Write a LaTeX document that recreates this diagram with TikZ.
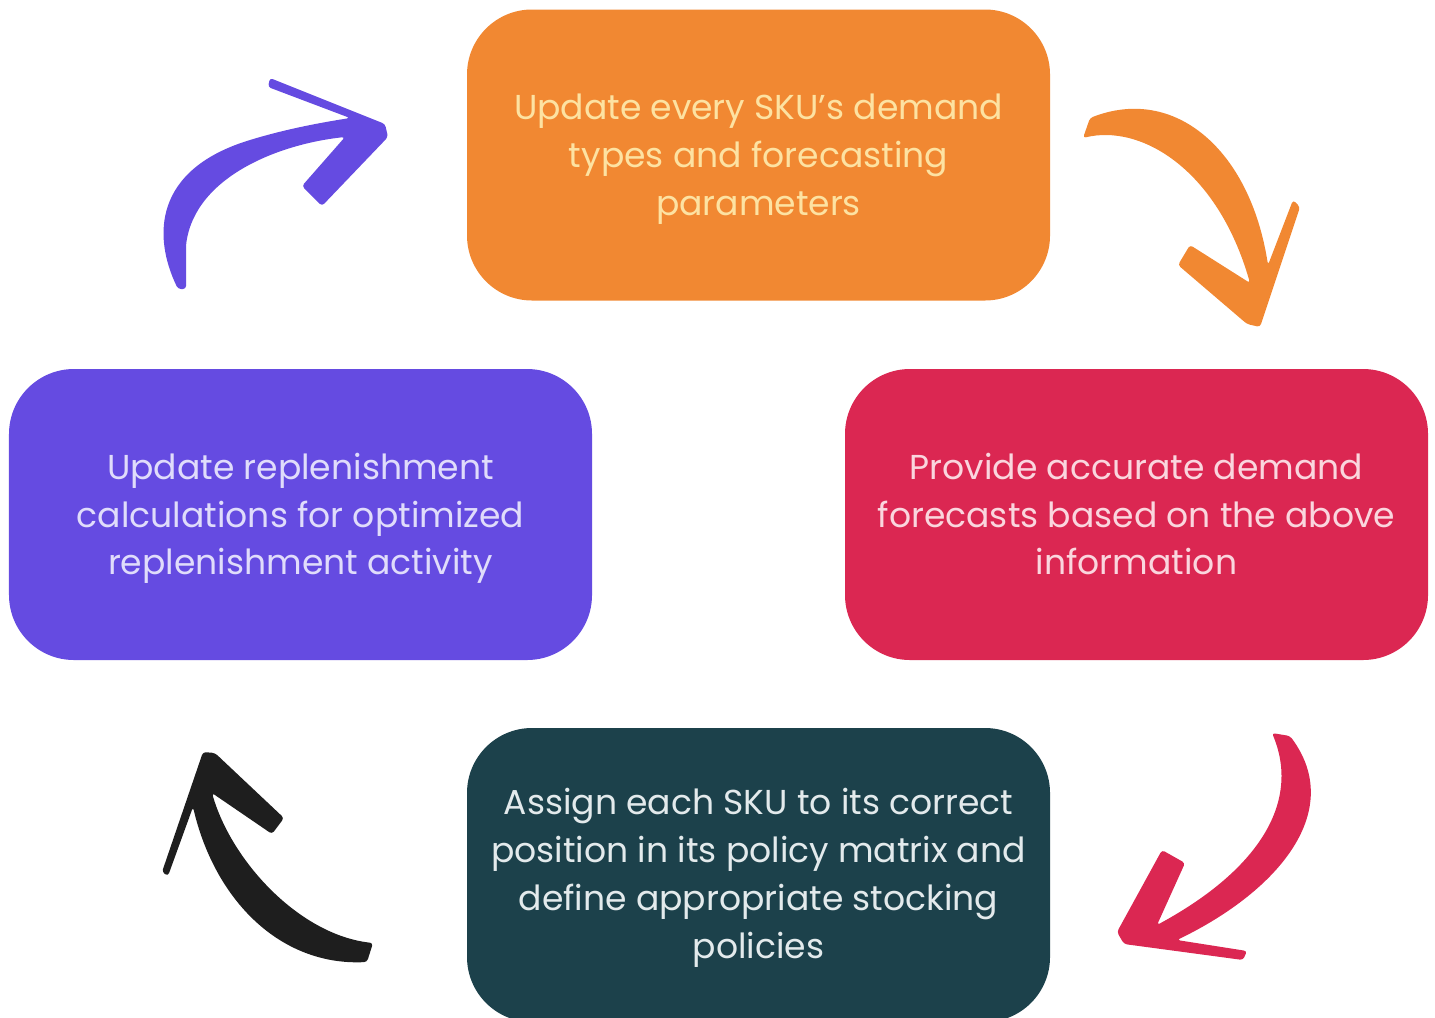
\documentclass[tikz,border=0pt]{standalone}
\usepackage{fontspec}
\setmainfont{Poppins}
\definecolor{cOrange}{HTML}{F18832}
\definecolor{cPurple}{HTML}{654BE1}
\definecolor{cRed}{HTML}{DB2752}
\definecolor{cTeal}{HTML}{1C414B}
\definecolor{cBlack}{HTML}{1E1E1E}
\definecolor{tOrange}{HTML}{FDE2A2}
\definecolor{tPurple}{HTML}{E0DCFB}
\definecolor{tRed}{HTML}{FAD6DE}
\definecolor{tTeal}{HTML}{E3EAEC}
\newcommand{\sx}{\strut}
\tikzset{
  stepbox/.style={rectangle, rounded corners=65bp, minimum width=583bp, minimum height=291bp,
    inner sep=0pt},
  steptext/.style={inner sep=0pt, align=center, font=\fontsize{34.7}{48}\selectfont},
}
\begin{document}
\begin{tikzpicture}[x=1bp,y=-1bp]
\useasboundingbox (0,0) rectangle (1435,1017);
\begin{scope}
\clip (0,0) rectangle (1435,1017);
\node[stepbox, fill=cOrange] (upd) at (758.5,155) {};
\node[stepbox, fill=cRed] (prov) at (1136.5,514.5) {};
\node[stepbox, fill=cTeal, minimum height=294bp] (assign) at (758.5,875) {};
\node[stepbox, fill=cPurple] (repl) at (300.5,514.5) {};
\end{scope}
\node[steptext, text=tOrange] (updtxt) at (758.5,158) {\sx Update every SKU’s demand\sx\\\sx types and forecasting\sx\\\sx parameters\sx};
\node[steptext, text=tRed] (provtxt) at (1136.5,517.5) {\sx Provide accurate demand\sx\\\sx forecasts based on the above\sx\\\sx information\sx};
\node[steptext, text=tTeal] (assigntxt) at (758.5,877) {\sx Assign each SKU to its correct\sx\\\sx position in its policy matrix and\sx\\\sx define appropriate stocking\sx\\\sx policies\sx};
\node[steptext, text=tPurple] (repltxt) at (300.5,517.5) {\sx Update replenishment\sx\\\sx calculations for optimized\sx\\\sx replenishment activity\sx};
% purple arrow
\fill[cPurple, rounded corners=3bp] (178,289) .. controls (152,235) and (155,170) .. (250,140)
  .. controls (290,128) and (325,122) .. (350,118) -- (268,87) -- (270,78) -- (385,124)
  -- (388,137) -- (322,206) -- (302,186) -- (345,137)
  .. controls (280,144) and (196,176) .. (186,245) -- (186,289) -- cycle;
% orange arrow
\fill[cOrange, rounded corners=3bp] (1083,138) .. controls (1140,124) and (1217,168) .. (1250,283)
  -- (1190,245) -- (1178,265) -- (1247,324) -- (1260,327) -- (1300,207) -- (1293,200)
  -- (1268,265) .. controls (1250,150) and (1175,85) .. (1090,118) -- cycle;
% red arrow
\fill[cRed, rounded corners=3bp] (1272,733) .. controls (1300,800) and (1262,868) .. (1157,925)
  -- (1185,863) -- (1162,850) -- (1117,932) -- (1124,944) -- (1243,960) -- (1247,951)
  -- (1177,940) .. controls (1280,890) and (1345,810) .. (1290,736) -- cycle;
% black arrow
\fill[cBlack, rounded corners=3bp] (373,943) .. controls (300,935) and (232,862) .. (212,793)
  -- (272,834) -- (284,818) -- (215,753) -- (203,752) -- (162,872) -- (168,876)
  -- (193,807) .. controls (215,900) and (280,966) .. (367,962) -- cycle;
\end{tikzpicture}
\end{document}
